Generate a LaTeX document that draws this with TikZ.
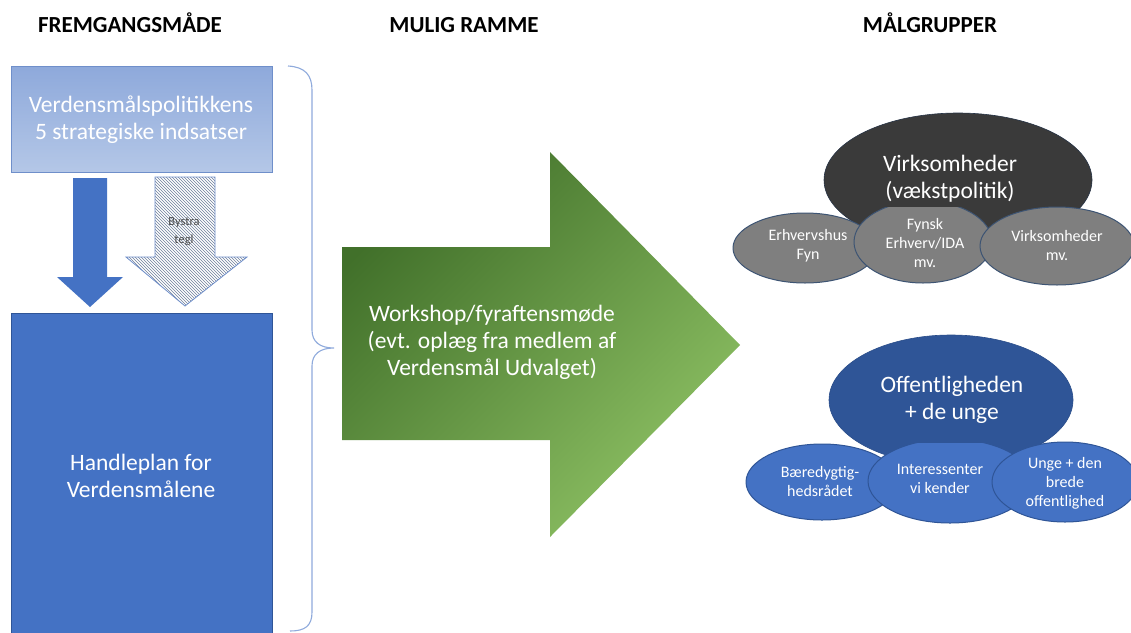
\documentclass[tikz,border=0pt]{standalone}
\usepackage{fontspec}
\setmainfont{Carlito}
\usetikzlibrary{patterns,shapes.geometric}
\definecolor{boxblue}{HTML}{4472C4}
\definecolor{boxborder}{HTML}{2F5597}
\definecolor{lightA}{HTML}{8EA9DB}
\definecolor{lightB}{HTML}{B4C7E7}
\definecolor{lightborder}{HTML}{6F8FCA}
\definecolor{bracecol}{HTML}{8FAADC}
\definecolor{hatchcol}{HTML}{6E7F9C}
\definecolor{greenA}{HTML}{41702A}
\definecolor{greenM}{HTML}{5E9A3C}
\definecolor{greenB}{HTML}{8DC063}
\definecolor{darkell}{HTML}{3A3A3A}
\definecolor{grayell}{HTML}{7F7F7F}
\definecolor{grayborder}{HTML}{3D5473}
\definecolor{navyell}{HTML}{2F5597}
\definecolor{navyborder}{HTML}{2A4D8A}
\tikzset{
  title/.style={font=\fontsize{23}{27}\selectfont\bfseries, text=black, anchor=base},
  bigtext/.style={font=\fontsize{23.5}{27}\selectfont, text=white, align=center},
  smalltext/.style={font=\fontsize{16}{19}\selectfont, text=white, align=center},
  grayoval/.style={fill=grayell, draw=grayborder, line width=1pt},
  blueoval/.style={fill=boxblue, draw=boxborder, line width=1pt},
}
\begin{document}
\begin{tikzpicture}[x=1pt,y=-1pt]
\useasboundingbox (0,0) rectangle (1131,632);
\fill[white] (0,0) rectangle (1131,632);

% titles
\node[title] (t1) at (130,32) {FREMGANGSMÅDE};
\node[title] (t2) at (464,32) {MULIG RAMME};
\node[title] (t3) at (930,32) {MÅLGRUPPER};

% top light box
\shade[top color=lightA, bottom color=lightB, draw=lightborder, line width=0.8pt] (11,66) rectangle (272,172);
\node[bigtext] (strat) at (141,120) {Verdensmålspolitikkens\\5 strategiske indsatser};

% solid arrow
\fill[boxblue] (73,178) -- (107,178) -- (107,277) -- (123,277) -- (90,307) -- (57,277) -- (73,277) -- cycle;

% hatched arrow
\fill[white] (155,177) -- (215,177) -- (215,257) -- (247,257) -- (185,306) -- (126,257) -- (155,257) -- cycle;
\path[pattern=north west lines, pattern color=hatchcol] (155,177) -- (215,177) -- (215,257) -- (247,257) -- (185,306) -- (126,257) -- (155,257) -- cycle;
\draw[lightborder, line width=0.8pt] (155,177) -- (215,177) -- (215,257) -- (247,257) -- (185,306) -- (126,257) -- (155,257) -- cycle;
\node[font=\fontsize{12.5}{18}\selectfont, text=black!70, align=center] (bystra) at (184,232) {Bystra\\tegl};

% big blue box
\fill[boxblue, draw=boxborder, line width=0.8pt] (11,313) rectangle (272,634);
\node[bigtext] (handle) at (141,476) {Handleplan for\\Verdensmålene};

% brace
\draw[bracecol, line width=1.1pt] (288,66) .. controls (305,67) and (312,75) .. (312,90)
  -- (312,330) .. controls (312,342) and (320,348) .. (334,348)
  .. controls (320,348) and (312,354) .. (312,366)
  -- (312,612) .. controls (312,626) and (305,631) .. (290,631);

% green arrow
\shade[left color=greenA, middle color=greenM, right color=greenB, shading angle=45]
  (342,247) -- (550,247) -- (550,152) -- (740,345) -- (550,537) -- (550,440) -- (342,440) -- cycle;
\node[bigtext] (work) at (492,342) {Workshop/fyraftensmøde\\(evt. oplæg fra medlem af\\Verdensmål Udvalget)};

% top cluster
\fill[darkell, draw=grayborder!60!black, line width=0.6pt] (958,180) ellipse [x radius=134, y radius=67];
\path[grayoval] (805,248) ellipse [x radius=72, y radius=35];
\path[grayoval] (923,242) ellipse [x radius=69, y radius=41];
\path[grayoval] (1057,246) ellipse [x radius=77, y radius=39];
\fill[darkell] (883,190) rectangle (1005,207);
\node[bigtext] (virk) at (950,179) {Virksomheder\\(vækstpolitik)};
\node[smalltext] (erh) at (808,246) {Erhvervshus\\Fyn};
\node[smalltext] (fynsk) at (925,243) {Fynsk\\Erhverv/IDA\\mv.};
\node[smalltext] (virkmv) at (1057,246) {Virksomheder\\mv.};

% bottom cluster
\fill[navyell, draw=navyborder, line width=0.6pt] (951,400) ellipse [x radius=122, y radius=65];
\path[blueoval] (822,482) ellipse [x radius=76, y radius=38];
\path[blueoval] (950,481) ellipse [x radius=82, y radius=42];
\path[blueoval] (1065,482) ellipse [x radius=73, y radius=40];
\fill[navyell] (893,425) rectangle (1017,443);
\node[bigtext] (off) at (952,400) {Offentligheden\\+ de unge};
\node[smalltext] (baer) at (820,481) {Bæredygtig-\\hedsrådet};
\node[smalltext] (inter) at (940,479) {Interessenter\\vi kender};
\node[smalltext] (unge) at (1065,483) {Unge + den\\brede\\offentlighed};
\end{tikzpicture}
\end{document}
